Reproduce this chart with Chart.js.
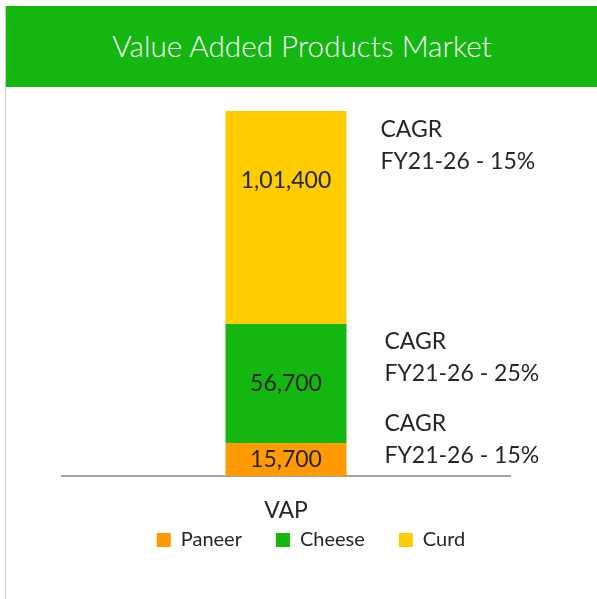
<!DOCTYPE html>
<html>
<head>
<meta charset="utf-8">
<script src="https://cdn.jsdelivr.net/npm/chart.js@4"></script>
<style>
html, body { margin:0; padding:0; background:#fff; }
#frame { position:absolute; left:5px; top:6px; width:592px; height:593px; border-left:1px solid #c8c8c8; }
#header { position:absolute; left:0; top:0; width:592px; height:81px; background:#13b70f; color:#fff;
  font-family:Lato, sans-serif; font-weight:300; font-size:29.7px; text-align:center; line-height:80px; }
#wrap { position:absolute; left:0; top:81px; width:591px; height:512px; }
</style>
</head>
<body>
<div id="frame">
  <div id="header">Value Added Products Market</div>
  <div id="wrap"><canvas id="vapChart"></canvas></div>
</div>
<script>
const categories = ["VAP"]
const seriesNames = ["Paneer", "Cheese", "Curd"]
const paneer = [15700]
const cheese = [56700]
const curd = [101400]
const cagrText = ["FY21-26 - 15%", "FY21-26 - 25%", "FY21-26 - 15%"]
const colors = ["#ff9a00", "#13b70f", "#ffcc00"]

// indian style grouping: 1,01,400
function fmtIN(n){
  const s = String(n)
  if(s.length <= 3) return s
  let last = s.slice(-3)
  let rest = s.slice(0, -3)
  let parts = []
  while(rest.length > 2){
    parts.unshift(rest.slice(-2))
    rest = rest.slice(0, -2)
  }
  if(rest) parts.unshift(rest)
  return parts.join(",") + "," + last
}

const labelPlugin = {
  id: "segLabels",
  afterLayout(chart){
    // legend sits a bit right of the plot centre in the original
    chart.legend.left += 25
    chart.legend.right += 25
  },
  afterDatasetsDraw(chart){
    const ctx = chart.ctx
    const xs = chart.scales.x
    ctx.save()
    ctx.fillStyle = "#262626"
    ctx.font = "23px Lato"
    ctx.textBaseline = "middle"

    // category label under the axis
    ctx.textAlign = "center"
    xs.ticks.forEach((t, i) => {
      ctx.fillText(categories[i], xs.getPixelForTick(i), xs.top + 35)
    })

    chart.data.datasets.forEach((ds, i) => {
      const el = chart.getDatasetMeta(i).data[0]
      const top = Math.min(el.y, el.base), bottom = Math.max(el.y, el.base)
      ctx.textAlign = "center"
      ctx.fillText(fmtIN(ds.data[0]), el.x, Math.min((top + bottom) / 2, top + 70))

      // CAGR notes to the right of each segment
      ctx.textAlign = "left"
      const right = el.x + el.width / 2
      let x = right + 38, y1 = top + 18
      if(i === 2){ x = right + 34; y1 = top + 19 }
      if(i === 0){ y1 = top - 19 }
      ctx.fillText("CAGR", x, y1)
      ctx.fillText(cagrText[i], x, y1 + 32)
    })
    ctx.restore()
  }
}

new Chart(document.getElementById("vapChart"), {
  type: "bar",
  data: {
    labels: categories,
    datasets: [
      { label: seriesNames[0], data: paneer, backgroundColor: colors[0] },
      { label: seriesNames[1], data: cheese, backgroundColor: colors[1] },
      { label: seriesNames[2], data: curd, backgroundColor: colors[2] }
    ]
  },
  options: {
    responsive: true,
    maintainAspectRatio: false,
    animation: false,
    categoryPercentage: 0.54,
    barPercentage: 0.5,
    layout: { padding: { left: 56, right: 87, top: 11, bottom: 39 } },
    scales: {
      x: {
        stacked: true,
        grid: { display: false, drawTicks: false },
        border: { display: true, color: "#a6a6a6", width: 2 },
        ticks: { display: false },
        afterFit(scale){ scale.height = 20 }
      },
      y: {
        stacked: true,
        display: false,
        min: 0,
        max: 180000
      }
    },
    plugins: {
      legend: {
        position: "bottom",
        labels: {
          color: "#262626",
          font: { family: "Lato", size: 20 },
          boxWidth: 14,
          boxHeight: 14,
          padding: 34
        }
      },
      tooltip: { enabled: false }
    }
  },
  plugins: [labelPlugin]
})
</script>
</body>
</html>
